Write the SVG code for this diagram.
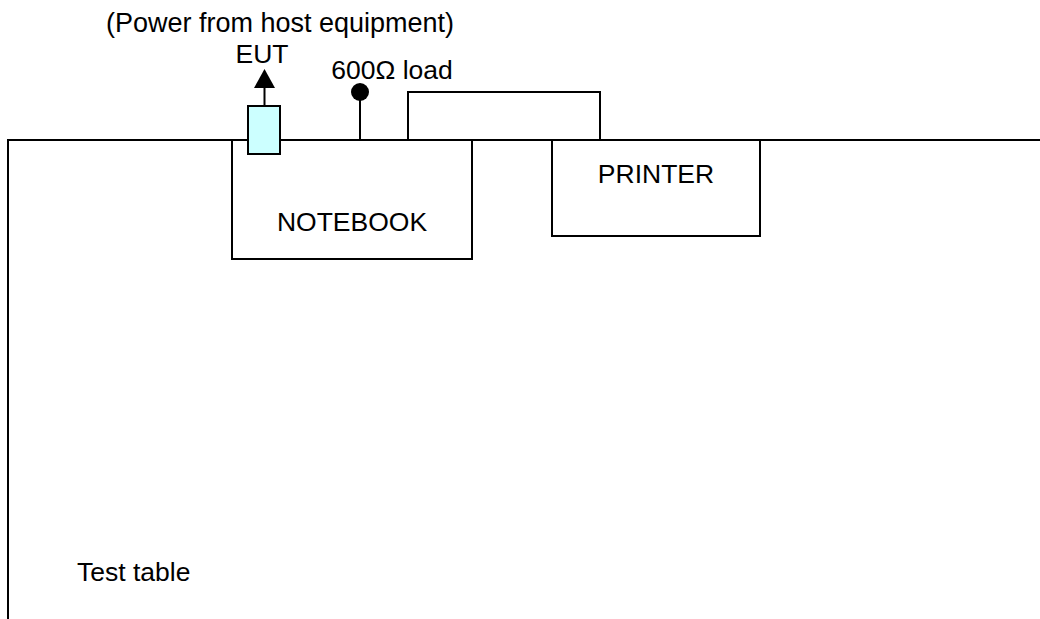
<svg xmlns="http://www.w3.org/2000/svg" width="1040" height="619" viewBox="0 0 1040 619">
<style>
.ln{stroke:#000;stroke-width:2;fill:none}
.box{stroke:#000;stroke-width:2;fill:#fff}
.t{font-family:"Liberation Sans",Arial,sans-serif;font-size:26.5px;fill:#000}
.c{text-anchor:middle}
</style>
<rect width="1040" height="619" fill="#fff"/>
<g id="table">
<path class="ln" d="M8,619 V140 H1040"/>
<text class="t" x="77" y="581">Test table</text>
</g>
<g id="notebook">
<rect class="box" x="232" y="140" width="240" height="119"/>
<text class="t c" x="352" y="231">NOTEBOOK</text>
</g>
<g id="printer">
<rect class="box" x="552" y="140" width="208" height="96"/>
<text class="t c" x="656" y="183">PRINTER</text>
</g>
<g id="connectors">
<path class="ln" d="M8,140 H1040"/>
<path class="ln" d="M408,140 V92 H600 V140"/>
<path class="ln" d="M360,140 V92"/>
<circle cx="360" cy="92" r="9" fill="#000"/>
<path class="ln" d="M264.5,106 V86"/>
<polygon points="254,88 275,88 264.5,69" fill="#000"/>
</g>
<g id="eut">
<rect x="248" y="106" width="32" height="48" fill="#CCFFFF" stroke="#000" stroke-width="2"/>
<text class="t c" x="262" y="63">EUT</text>
<text class="t c" x="280" y="32" style="font-size:27px">(Power from host equipment)</text>
</g>
<g id="load">
<text class="t c" x="392" y="79">600Ω load</text>
</g>
</svg>
